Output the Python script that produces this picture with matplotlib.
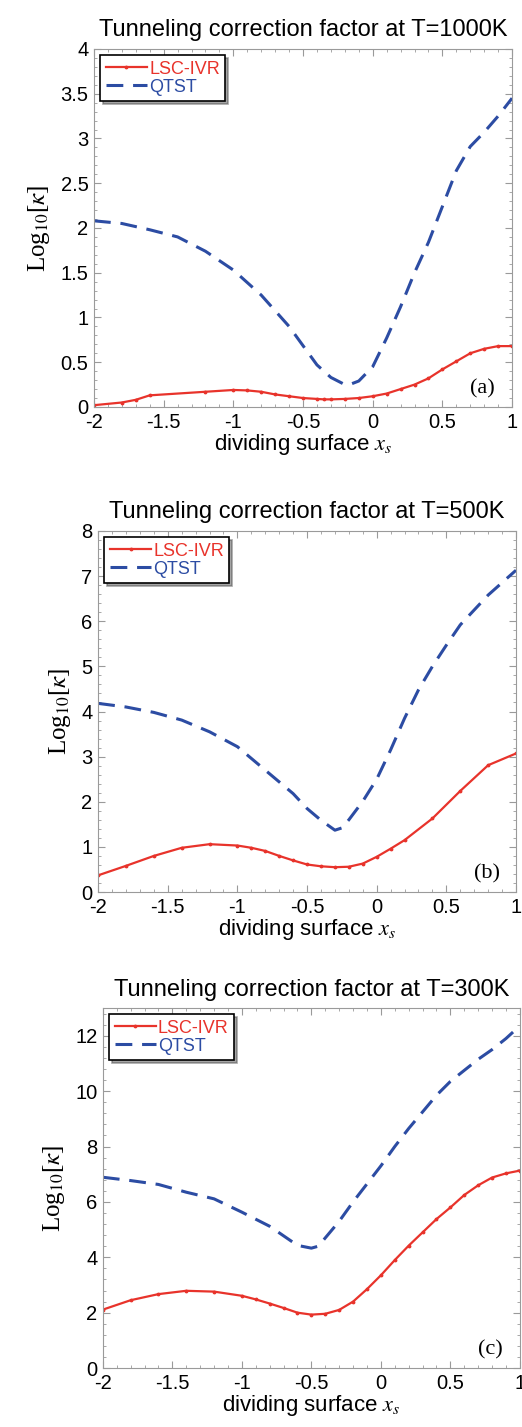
import numpy as np
import matplotlib.pyplot as plt
from matplotlib.ticker import AutoMinorLocator, MultipleLocator, FormatStrFormatter

plt.rcParams['font.family'] = ['Liberation Sans', 'DejaVu Sans']
plt.rcParams['mathtext.fontset'] = 'stix'

# Panel (a): T=1000K
x_lsc_a = [-2.0, -1.8, -1.7, -1.6, -1.2, -1.0, -0.9, -0.8, -0.7, -0.6, -0.5, -0.4, -0.35, -0.3,
           -0.2, -0.1, 0.0, 0.1, 0.2, 0.3, 0.4, 0.5, 0.6, 0.7, 0.8, 0.9, 1.0]
y_lsc_a = [0.02, 0.05, 0.08, 0.13, 0.17, 0.19, 0.185, 0.17, 0.14, 0.12, 0.10, 0.09, 0.085, 0.085,
           0.09, 0.10, 0.12, 0.15, 0.20, 0.25, 0.32, 0.42, 0.51, 0.60, 0.65, 0.68, 0.68]
x_qtst_a = [-2.0, -1.8, -1.6, -1.4, -1.2, -1.0, -0.8, -0.6, -0.4, -0.3, -0.2, -0.15, -0.1, 0.0,
            0.1, 0.2, 0.3, 0.4, 0.5, 0.6, 0.7, 0.8, 0.9, 1.0]
y_qtst_a = [2.08, 2.05, 1.98, 1.90, 1.74, 1.53, 1.25, 0.90, 0.47, 0.33, 0.25, 0.26, 0.29, 0.45,
            0.77, 1.12, 1.50, 1.84, 2.24, 2.64, 2.91, 3.07, 3.25, 3.45]

# Panel (b): T=500K
x_lsc_b = [-2.0, -1.8, -1.6, -1.4, -1.2, -1.0, -0.9, -0.8, -0.7, -0.6, -0.5, -0.4, -0.3,
           -0.2, -0.1, 0.0, 0.1, 0.2, 0.4, 0.6, 0.8, 1.0]
y_lsc_b = [0.37, 0.58, 0.80, 0.98, 1.06, 1.03, 0.98, 0.91, 0.80, 0.70, 0.61, 0.57, 0.55,
           0.56, 0.63, 0.78, 0.96, 1.15, 1.63, 2.24, 2.81, 3.07]
x_qtst_b = [-2.0, -1.8, -1.6, -1.4, -1.2, -1.0, -0.8, -0.6, -0.5, -0.4, -0.3, -0.25, -0.2,
            -0.1, 0.0, 0.1, 0.2, 0.3, 0.4, 0.5, 0.6, 0.8, 1.0]
y_qtst_b = [4.18, 4.10, 3.98, 3.81, 3.55, 3.22, 2.70, 2.18, 1.85, 1.59, 1.37, 1.42, 1.60,
            2.01, 2.50, 3.15, 3.85, 4.48, 5.00, 5.47, 5.92, 6.58, 7.13]

# Panel (c): T=300K
x_lsc_c = [-2.0, -1.8, -1.6, -1.4, -1.2, -1.0, -0.9, -0.8, -0.7, -0.6, -0.5, -0.4, -0.3,
           -0.2, -0.1, 0.0, 0.1, 0.2, 0.3, 0.4, 0.5, 0.6, 0.7, 0.8, 0.9, 1.0]
y_lsc_c = [2.11, 2.45, 2.67, 2.79, 2.76, 2.61, 2.48, 2.33, 2.17, 2.00, 1.93, 1.96, 2.10,
           2.40, 2.85, 3.35, 3.90, 4.42, 4.90, 5.38, 5.80, 6.25, 6.60, 6.88, 7.03, 7.13]
x_qtst_c = [-2.0, -1.8, -1.6, -1.4, -1.2, -1.0, -0.8, -0.6, -0.5, -0.45, -0.4, -0.3, -0.2,
            -0.1, 0.0, 0.1, 0.2, 0.3, 0.4, 0.5, 0.6, 0.7, 0.8, 0.9, 1.0]
y_qtst_c = [6.89, 6.77, 6.63, 6.35, 6.11, 5.63, 5.12, 4.43, 4.33, 4.40, 4.70, 5.30, 6.00,
            6.65, 7.30, 8.00, 8.65, 9.25, 9.85, 10.35, 10.75, 11.15, 11.50, 11.90, 12.36]

temps = ["1000K", "500K", "300K"]
tags = ["(a)", "(b)", "(c)"]
ylims = [(0, 4), (0, 8), (0, 13)]
ysteps = [0.5, 1, 2]

panels = [
    (x_lsc_a, y_lsc_a, x_qtst_a, y_qtst_a),
    (x_lsc_b, y_lsc_b, x_qtst_b, y_qtst_b),
    (x_lsc_c, y_lsc_c, x_qtst_c, y_qtst_c),
]
# axes boxes [left, bottom, width, height] in figure fraction
boxes = [
    [0.180, 0.7148, 0.801, 0.2509],
    [0.188, 0.3749, 0.8005, 0.2530],
    [0.197, 0.0413, 0.799, 0.2523],
]

red = '#e8332b'
blue = '#2c4ca3'
gray = '#9a9a9a'

fig = plt.figure(figsize=(5.22, 14.27), dpi=100)

for i, (xl, yl, xq, yq) in enumerate(panels):
    ax = fig.add_axes(boxes[i])
    ax.plot(xl, yl, '-', color=red, lw=1.6, marker='.', ms=3.5, label='LSC-IVR')
    ax.plot(xq, yq, '--', color=blue, lw=2.2, dashes=(5.5, 3.2), label='QTST')
    ax.set_xlim(-2, 1)
    ax.set_ylim(*ylims[i])
    ax.xaxis.set_major_locator(MultipleLocator(0.5))
    ax.yaxis.set_major_locator(MultipleLocator(ysteps[i]))
    ax.xaxis.set_minor_locator(AutoMinorLocator(5))
    ax.yaxis.set_minor_locator(AutoMinorLocator(5))
    ax.xaxis.set_major_formatter(FormatStrFormatter('%g'))
    ax.yaxis.set_major_formatter(FormatStrFormatter('%g'))
    ax.tick_params(which='both', direction='in', top=True, right=True, color=gray,
                   labelsize=14.5, pad=4)
    ax.tick_params(which='major', length=5)
    ax.tick_params(which='minor', length=2.5)
    for s in ax.spines.values():
        s.set_color(gray)
    ax.set_title(f"Tunneling correction factor at T={temps[i]}", fontsize=17, pad=9)
    ax.set_xlabel("dividing surface $x_s$", fontsize=16, labelpad=0)
    ax.set_ylabel(r"Log$_{10}$[$\kappa$]", fontsize=18, family='Liberation Serif',
                  labelpad=6)
    ax.text(0.93, 0.025, tags[i], transform=ax.transAxes, ha='center', va='bottom',
            fontsize=16, family='Liberation Serif')
    leg = ax.legend(loc='upper left', fontsize=13, frameon=True, fancybox=False,
                    shadow=True, edgecolor='black', handlelength=2.3,
                    borderaxespad=0.35, labelspacing=0.05, handletextpad=0.1,
                    borderpad=0.3)
    leg.get_frame().set_linewidth(1.2)
    for t, c in zip(leg.get_texts(), [red, blue]):
        t.set_color(c)

fig.savefig('out.png', dpi=100)
